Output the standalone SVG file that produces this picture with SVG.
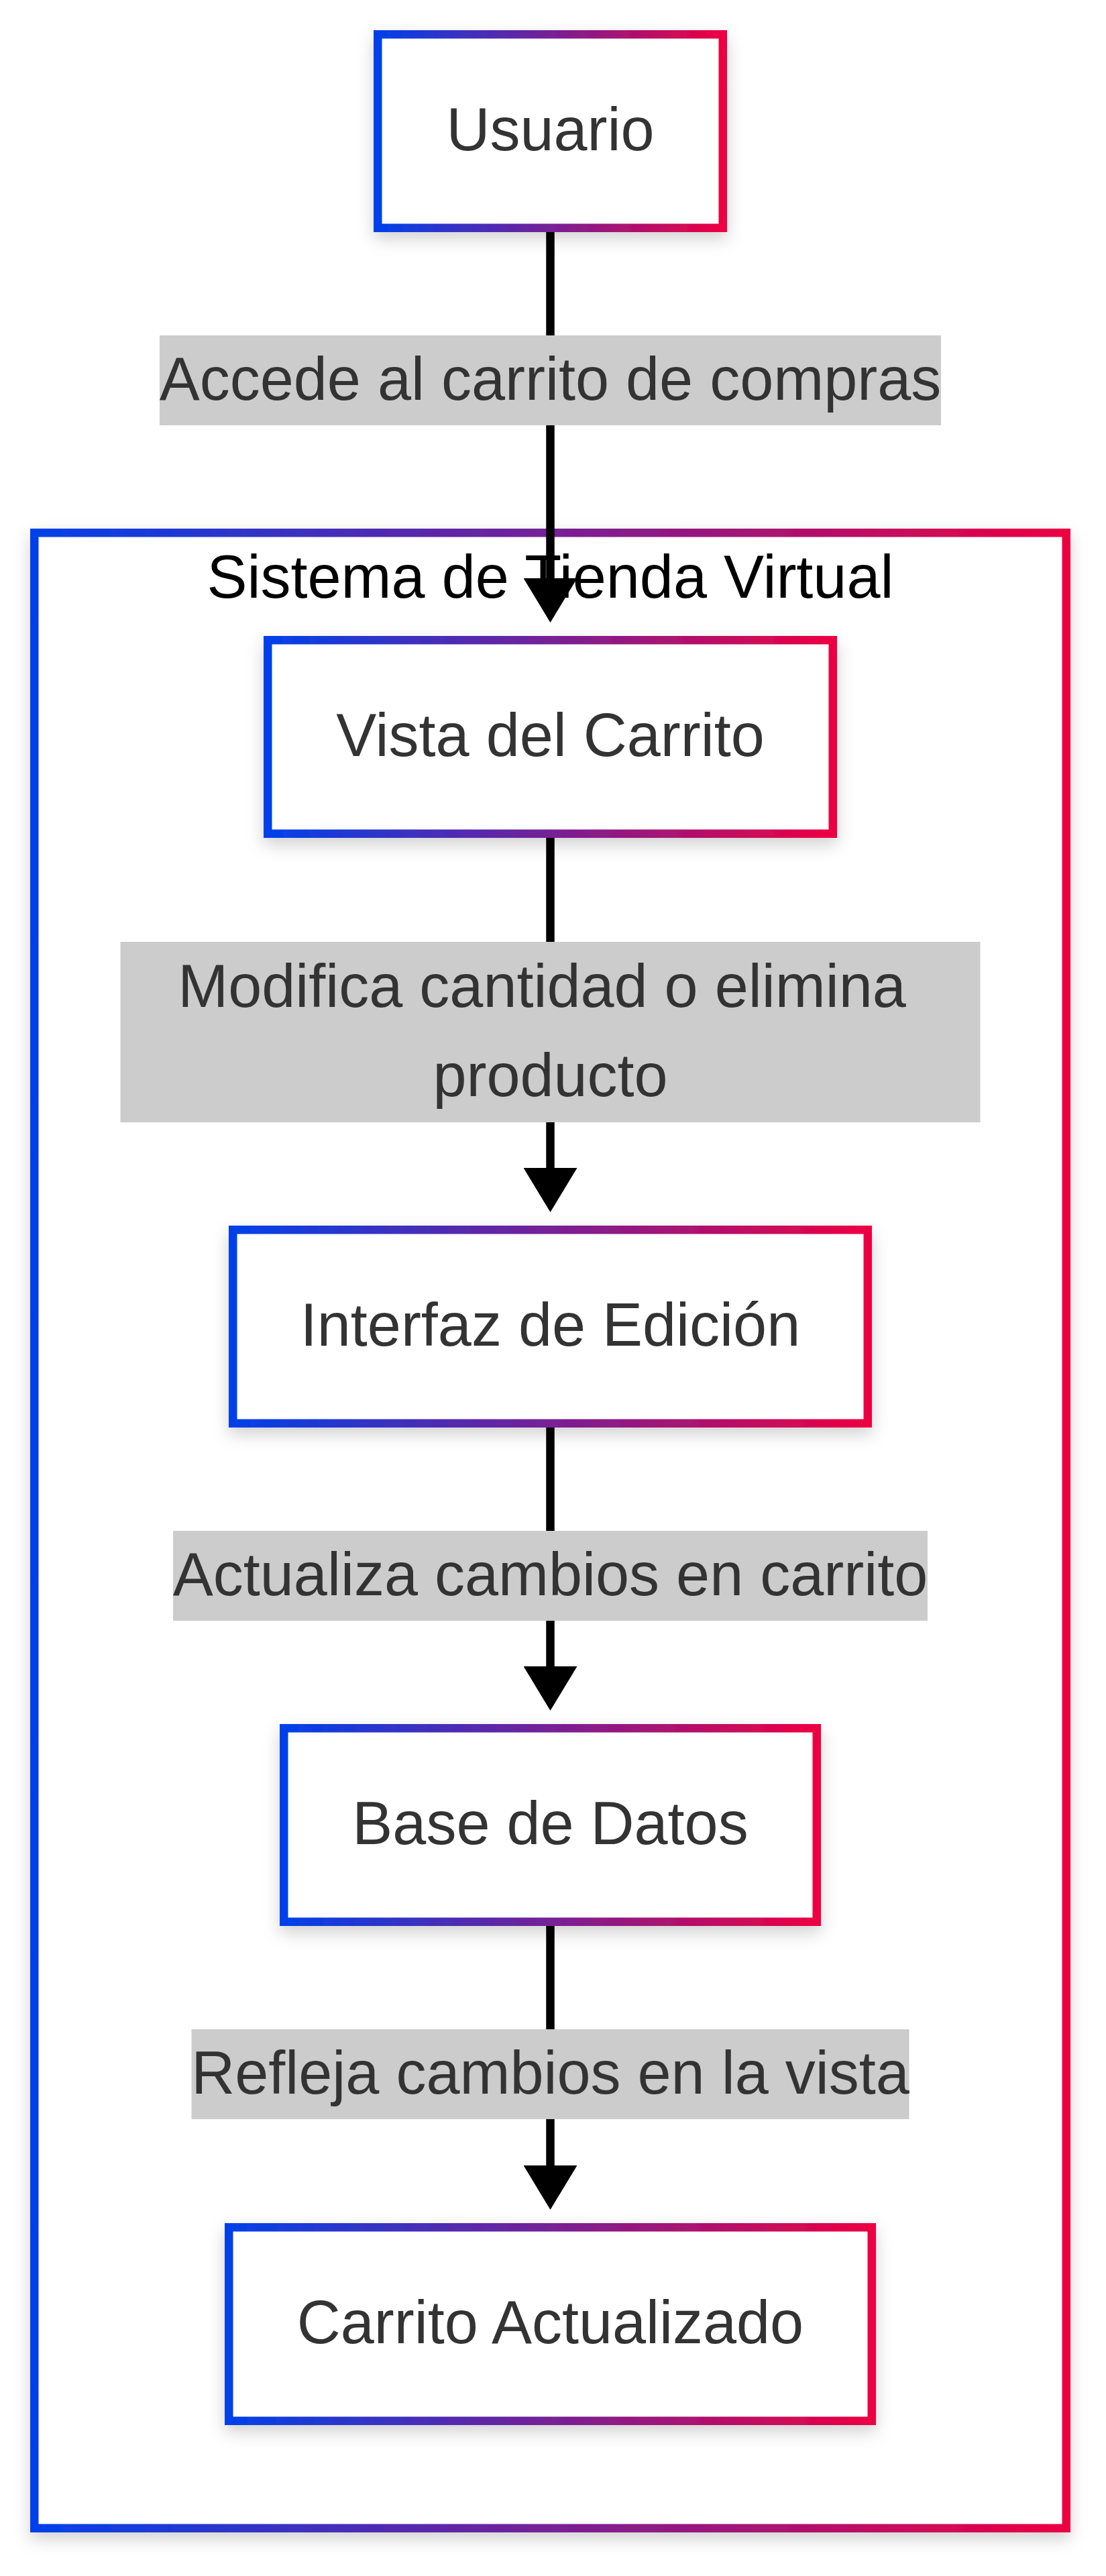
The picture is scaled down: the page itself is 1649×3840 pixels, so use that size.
<svg xmlns="http://www.w3.org/2000/svg" width="1649" height="3840" viewBox="0 0 1649 3840">
<defs>
<linearGradient id="grad" x1="0" y1="0" x2="1" y2="0">
<stop offset="0" stop-color="#0041EA"/>
<stop offset="1" stop-color="#ED0042"/>
</linearGradient>
<filter id="shadow" x="-10%" y="-10%" width="120%" height="125%">
<feDropShadow dx="0" dy="10" stdDeviation="12" flood-color="#000" flood-opacity="0.18"/>
</filter>
<marker id="arrow" viewBox="0 0 66 80" refX="6" refY="40" markerWidth="66" markerHeight="80" markerUnits="userSpaceOnUse" orient="auto">
<path d="M0,0 L66,40 L0,80 z" fill="#000"/>
</marker>
<style>
.box{fill:#fff;stroke:url(#grad);stroke-width:12.5;filter:url(#shadow);}
.lbl{font-family:"Liberation Sans",Arial,sans-serif;font-size:90px;fill:#333;text-anchor:middle;}
.title{font-family:"Liberation Sans",Arial,sans-serif;font-size:90px;fill:#000;text-anchor:middle;}
.edge{stroke:#000;stroke-width:12.5;fill:none;marker-end:url(#arrow);}
.ebg{fill:#ccc;}
</style>
</defs>
<rect width="1649" height="3840" fill="#fff"/>
<g id="subgraph-sistema">
<rect class="box" x="51.25" y="794.25" width="1538.5" height="2974.5"/>
<text class="title" x="820.5" y="891">Sistema de Tienda Virtual</text>
</g>
<g id="node-usuario">
<rect class="box" x="563.25" y="51.25" width="514.5" height="288.5"/>
<text class="lbl" x="820.5" y="224">Usuario</text>
</g>
<g id="node-vista">
<rect class="box" x="399.25" y="954.25" width="842.5" height="288.5"/>
<text class="lbl" x="820.5" y="1127">Vista del Carrito</text>
</g>
<g id="node-interfaz">
<rect class="box" x="347.25" y="1833.25" width="946.5" height="288.5"/>
<text class="lbl" x="820.5" y="2006">Interfaz de Edición</text>
</g>
<g id="node-base">
<rect class="box" x="423.25" y="2576.25" width="794.5" height="288.5"/>
<text class="lbl" x="820.5" y="2749">Base de Datos</text>
</g>
<g id="node-carrito">
<rect class="box" x="341.25" y="3320.25" width="958.5" height="288.5"/>
<text class="lbl" x="820.5" y="3493">Carrito Actualizado</text>
</g>
<g id="connectors">
<line class="edge" x1="820.5" y1="346" x2="820.5" y2="868"/>
<line class="edge" x1="820.5" y1="1249" x2="820.5" y2="1747"/>
<line class="edge" x1="820.5" y1="2128" x2="820.5" y2="2490"/>
<line class="edge" x1="820.5" y1="2871" x2="820.5" y2="3234"/>
</g>
<g id="edge-labels">
<g id="label-1">
<rect class="ebg" x="238" y="500" width="1165" height="134"/>
<text class="lbl" x="820.5" y="596">Accede al carrito de compras</text>
</g>
<g id="label-2">
<rect class="ebg" x="179.5" y="1404" width="1282" height="269"/>
<text class="lbl" x="808" y="1501">Modifica cantidad o elimina</text>
<text class="lbl" x="820.5" y="1634">producto</text>
</g>
<g id="label-3">
<rect class="ebg" x="258" y="2282" width="1125" height="134"/>
<text class="lbl" x="820.5" y="2378">Actualiza cambios en carrito</text>
</g>
<g id="label-4">
<rect class="ebg" x="285.5" y="3025" width="1070" height="134"/>
<text class="lbl" x="820.5" y="3121">Refleja cambios en la vista</text>
</g>
</g>
</svg>
